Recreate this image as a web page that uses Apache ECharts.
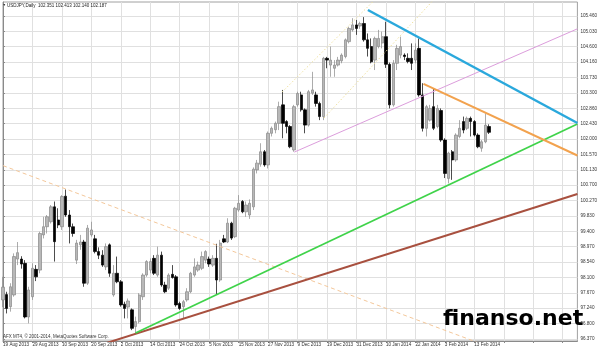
<!DOCTYPE html>
<html><head><meta charset="utf-8">
<script src="https://cdn.jsdelivr.net/npm/echarts@6/dist/echarts.min.js"></script>
<style>html,body{margin:0;padding:0;background:#fff;}#c{width:600px;height:349px;}</style>
</head><body><div id="c"></div>
<script>
const symbolName = 'USDJPY,Daily';
const firstDate = [2013, 7, 19];
const slotCount = 157;
const monthNames = ['Jan','Feb','Mar','Apr','May','Jun','Jul','Aug','Sep','Oct','Nov','Dec'];

const opens = [97.47,97.62,97.28,97.61,98.62,98.62,98.50,96.99,97.56,98.33,
98.31,99.30,99.53,99.67,100.09,99.72,99.53,100.39,99.86,99.53,
98.59,99.02,99.10,97.94,99.30,99.19,98.83,98.73,98.40,99.02,
97.61,98.22,97.98,97.35,97.27,97.19,96.72,96.86,97.56,98.17,
98.31,98.64,98.17,98.73,97.89,97.80,98.19,98.12,97.37,97.28,
97.47,97.70,98.17,98.31,98.36,98.59,98.62,98.45,98.64,98.03,
99.19,99.10,99.63,99.25,100.00,100.24,99.95,99.86,100.09,101.13,
101.29,101.64,101.27,102.16,102.26,102.44,102.96,102.49,102.35,101.69,
102.96,103.24,102.82,102.39,103.29,103.24,103.00,102.63,104.27,104.08,
103.99,104.08,104.20,104.32,104.74,105.07,105.21,105.18,105.25,104.79,
104.60,104.22,104.60,104.70,104.88,104.10,102.96,104.13,104.36,104.36,
104.27,104.27,104.22,104.55,103.24,102.30,102.53,102.91,102.35,102.80,
101.97,100.89,101.64,101.41,102.07,102.49,102.30,102.58,102.49,102.11,
101.74,101.92,102.351];
const highs = [98.12,97.70,97.94,98.78,99.10,98.70,98.59,97.84,98.50,98.45,
99.39,99.81,99.86,100.14,100.24,100.05,100.42,100.58,100.00,99.62,
99.16,99.30,99.16,99.58,99.67,99.30,98.95,98.87,99.06,99.06,
98.45,98.69,98.03,97.42,97.51,97.23,97.00,97.66,98.22,98.59,
98.64,98.73,98.97,98.83,97.98,98.22,98.45,98.17,97.42,97.47,
97.80,98.26,98.64,98.55,98.83,98.87,98.69,98.73,99.05,99.16,
99.30,99.77,99.67,100.09,100.42,100.28,100.24,100.30,101.20,101.41,
101.88,101.69,102.21,102.35,102.49,103.05,103.38,102.53,102.39,102.96,
103.33,103.33,102.86,103.38,103.89,103.33,103.05,104.31,104.31,104.60,
104.22,104.31,104.41,104.83,105.16,105.40,105.35,105.30,105.43,104.97,
104.83,104.88,105.07,105.02,105.30,104.15,104.22,104.65,104.88,104.41,
104.41,104.69,104.69,104.83,103.57,102.96,102.96,103.43,102.96,102.86,
102.02,101.64,101.69,102.16,102.53,102.63,102.63,102.63,102.53,102.16,
101.97,102.72,102.413];
const lows = [97.27,97.09,97.14,97.56,98.45,98.35,96.95,96.81,97.47,98.00,
98.22,99.20,99.34,99.62,98.55,99.49,99.44,99.81,99.06,99.25,
98.48,98.88,97.84,97.89,99.25,98.78,98.62,98.40,98.31,98.12,
97.56,97.94,97.28,96.95,96.95,96.62,96.53,96.81,97.47,98.12,
98.22,98.17,98.12,97.84,97.66,97.75,98.07,97.28,97.19,96.95,
97.42,97.66,98.12,98.26,98.31,98.50,98.40,98.40,97.61,97.98,
99.07,99.07,99.16,99.21,99.95,99.91,99.81,99.75,100.00,101.03,
101.22,101.22,101.17,102.07,102.16,102.25,102.02,102.16,101.74,101.64,
102.91,102.77,102.16,102.35,103.24,102.91,102.53,102.53,103.99,103.75,
103.75,104.04,104.13,104.27,104.69,105.02,104.93,105.10,104.74,104.32,
104.13,103.94,104.55,104.55,104.00,102.86,102.91,103.94,104.27,104.22,
104.13,103.94,104.13,103.19,102.21,102.07,102.49,102.25,102.30,101.92,
100.90,100.75,100.85,101.36,102.02,102.16,102.25,102.07,102.07,101.74,
101.64,101.88,102.140];
const closes = [97.83,97.23,97.84,98.69,98.80,98.48,96.99,97.75,98.36,98.12,
99.34,99.53,99.81,100.09,99.11,99.58,100.38,99.86,99.53,99.34,
99.07,99.10,97.94,99.49,99.44,98.83,98.73,98.45,98.97,98.22,
98.22,97.98,97.33,97.23,97.44,96.67,96.86,97.61,98.17,98.55,
98.55,98.22,98.73,97.89,97.70,98.17,98.10,97.33,97.23,97.42,
97.70,98.22,98.40,98.45,98.69,98.83,98.48,98.64,98.03,99.07,
99.10,99.63,99.21,100.05,100.19,99.95,100.14,100.19,101.15,101.32,
101.64,101.27,102.16,102.30,102.44,102.91,102.44,102.35,101.78,102.91,
103.28,102.82,102.39,103.33,103.38,103.00,102.63,104.27,104.22,104.22,
104.08,104.22,104.36,104.79,105.11,105.21,105.11,105.25,104.79,104.55,
104.17,104.83,104.83,104.88,104.10,102.96,104.13,104.55,104.60,104.32,
104.18,104.13,104.50,103.24,102.30,102.91,102.86,102.30,102.86,101.97,
101.03,101.60,101.41,102.11,102.30,102.25,102.58,102.49,102.11,101.78,
101.92,102.39,102.187];

const priceTicks = [96.370,96.800,97.240,97.670,98.100,98.540,98.970,99.400,99.830,100.270,100.700,
101.130,101.570,102.000,102.430,102.860,103.300,103.730,104.160,104.600,105.030,105.460];

const cyanLine = [[99.1,105.63],[156,102.45]];
const orangeLine = [[114.2,103.55],[156,101.535]];
const greenLine = [[36.0,96.54],[156,102.42]];
const brownLine = [[28,96.254],[156,100.45]];
const pinkLine = [[79.1,101.63],[156,105.10]];
const dashedLine = [[0,101.25],[130,96.23]];
const dottedUpper = [[75.8,103.32],[100.9,105.91]];
const dottedLower = [[87.2,102.59],[116.9,105.91]];

const dates = [];
const d = new Date(Date.UTC(firstDate[0], firstDate[1], firstDate[2]));
while (dates.length < slotCount) {
  const wd = d.getUTCDay();
  if (wd !== 0 && wd !== 6) dates.push(d.getUTCDate() + ' ' + monthNames[d.getUTCMonth()] + ' ' + d.getUTCFullYear());
  d.setUTCDate(d.getUTCDate() + 1);
}
const n = opens.length;
const candles = opens.map((o, i) => [o, closes[i], lows[i], highs[i]]);
const last = n - 1;
const titleText = symbolName + '  ' + [opens[last], highs[last], lows[last], closes[last]].map(v => v.toFixed(3)).join(' ');

const smallFont = 'Liberation Sans';
function trend(data, color, width, type) {
  return {type: 'line', xAxisIndex: 1, yAxisIndex: 0, data: data, symbol: 'none', clip: true, silent: true, z: 5,
    lineStyle: {color: color, width: width, type: type || 'solid'}};
}

const chart = echarts.init(document.getElementById('c'), null, {renderer: 'canvas'});
chart.setOption({
  animation: false,
  backgroundColor: '#fff',
  grid: {left: 2, right: 20, top: 2, bottom: 8, show: true, borderColor: '#a0a0a0', borderWidth: 1},
  xAxis: [{
    type: 'category', data: dates, boundaryGap: false,
    axisLine: {lineStyle: {color: '#8a8a8a', width: 1}},
    axisTick: {show: true, interval: 7, length: 2, lineStyle: {color: '#8a8a8a'}},
    axisLabel: {interval: 7, fontSize: 4.6, color: '#333', align: 'left', margin: 1.5, fontFamily: smallFont,
      formatter: (v, i) => (i < n ? v : '')},
    splitLine: {show: true, interval: 7, lineStyle: {color: '#e0e0e0', width: 1}}
  }, {
    type: 'value', min: 0, max: slotCount - 1, show: false
  }],
  yAxis: [{
    type: 'value', position: 'right', min: 96.314, max: 105.855,
    axisLine: {show: true, lineStyle: {color: '#8a8a8a', width: 1}},
    axisTick: {show: true, length: 2, customValues: priceTicks, lineStyle: {color: '#8a8a8a'}},
    axisLabel: {customValues: priceTicks, formatter: v => v.toFixed(3), fontSize: 4.6, color: '#333', margin: 3, fontFamily: smallFont},
    splitLine: {show: true, lineStyle: {color: '#e0e0e0', width: 1}}
  }],
  series: [{
    type: 'candlestick', xAxisIndex: 0, yAxisIndex: 0, data: candles, barWidth: 2.9, z: 3,
    itemStyle: {color: '#b8b8b8', color0: '#000', borderColor: '#888888', borderColor0: '#000', borderWidth: 0.7},
    markLine: {
      silent: true, symbol: 'none', animation: false,
      lineStyle: {opacity: 0},
      label: {show: true, position: 'end', distance: 1, formatter: closes[last].toFixed(3), color: '#fff',
        backgroundColor: '#000', padding: [1, 1.5, 0.5, 1.5], fontSize: 4.6, fontFamily: smallFont},
      data: [{yAxis: closes[last]}]
    }
  },
    trend(dottedUpper, '#eee0a0', 1, [1.5, 2]),
    trend(dottedLower, '#eee0a0', 1, [1.5, 2]),
    trend(dashedLine, '#f3c79a', 1, [4, 3]),
    trend(pinkLine, '#dc9ddc', 1),
    trend(brownLine, '#a8503f', 2),
    trend(greenLine, '#3fd34a', 1.8),
    trend(orangeLine, '#f2a24e', 2),
    trend(cyanLine, '#2aa8dc', 2.5)
  ],
  graphic: [
    {type: 'text', left: 2.5, top: 3, z: 20, style: {text: '\u25BC', fontSize: 3.5, fill: '#333'}},
    {type: 'text', left: 7, top: 3, z: 20, style: {text: titleText, fontSize: 4.5, fill: '#222', fontFamily: smallFont}},
    {type: 'text', left: 3, top: 334.6, z: 20, style: {text: 'AFX MT4, \u00A9 2001-2014, MetaQuotes Software Corp.', fontSize: 4.5, fill: '#333', fontFamily: smallFont}},
    {type: 'text', left: 443, top: 308, z: 30, style: {text: 'finanso.net', fontSize: 22, fontWeight: 'bold', fill: '#000', fontFamily: 'DejaVu Sans'}}
  ]
});
</script></body></html>
